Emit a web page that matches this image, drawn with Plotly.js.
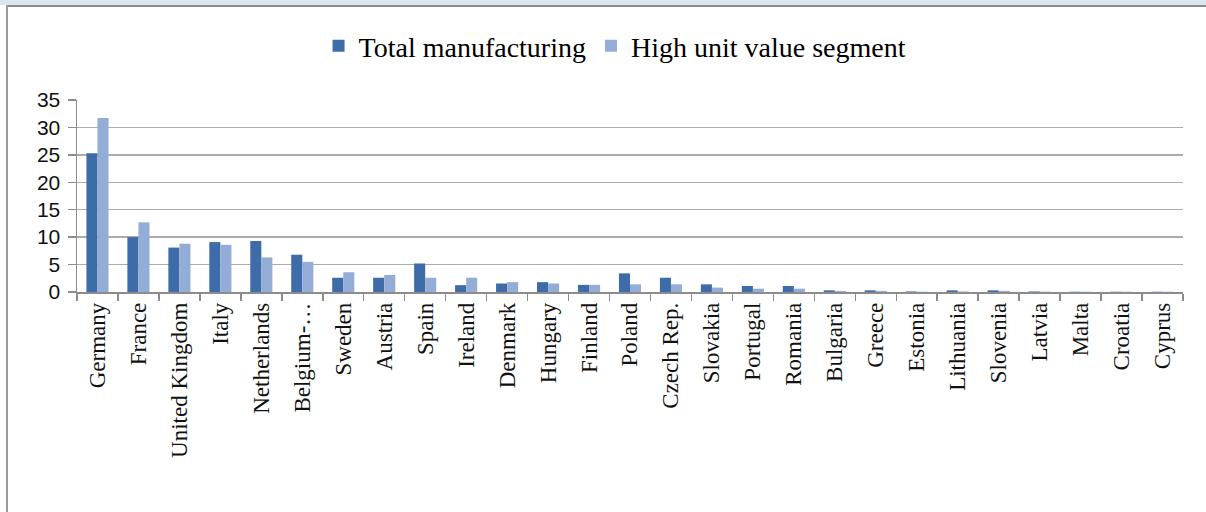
<!DOCTYPE html>
<html>
<head>
<meta charset="utf-8">
<script src="https://cdn.plot.ly/plotly-3.0.1.min.js"></script>
<style>
  html, body { margin: 0; padding: 0; background: #ffffff; }
  #wrap { position: relative; width: 1206px; height: 512px; overflow: hidden; }
  #chart { position: absolute; left: 0; top: 0; width: 1206px; height: 512px; }
  #band { position: absolute; left: 0; top: 0; width: 1206px; height: 5px; background: #dce6f1; pointer-events: none; }
  #topline { position: absolute; left: 6px; top: 5px; width: 1200px; height: 2px; background: #8c8c8c; pointer-events: none; }
  #leftline { position: absolute; left: 6px; top: 5px; width: 2px; height: 507px; background: #9a9a9a; pointer-events: none; }
</style>
</head>
<body>
<div id="wrap">
  <div id="chart"></div>
  <div id="band"></div>
  <div id="topline"></div>
  <div id="leftline"></div>
</div>
<script>
var countries = ["Germany", "France", "United Kingdom", "Italy", "Netherlands", "Belgium-…",
  "Sweden", "Austria", "Spain", "Ireland", "Denmark", "Hungary", "Finland", "Poland",
  "Czech Rep.", "Slovakia", "Portugal", "Romania", "Bulgaria", "Greece", "Estonia",
  "Lithuania", "Slovenia", "Latvia", "Malta", "Croatia", "Cyprus"];

var totalManufacturing = [25.3, 10.0, 8.1, 9.1, 9.3, 6.8,
  2.6, 2.6, 5.2, 1.25, 1.55, 1.8, 1.3, 3.4,
  2.6, 1.4, 1.1, 1.1, 0.3, 0.3, 0.1,
  0.3, 0.3, 0.1, 0.05, 0.05, 0.05];

var highUnitValue = [31.7, 12.7, 8.8, 8.6, 6.3, 5.5,
  3.6, 3.1, 2.6, 2.6, 1.8, 1.55, 1.3, 1.4,
  1.4, 0.8, 0.6, 0.6, 0.2, 0.2, 0.05,
  0.1, 0.2, 0.05, 0.05, 0.05, 0.05];

var yTicks = [0, 5, 10, 15, 20, 25, 30, 35];

var traces = [
  { type: "bar", name: "Total manufacturing", x: countries, y: totalManufacturing,
    marker: { color: "#3d6ca9" } },
  { type: "bar", name: "High unit value segment", x: countries, y: highUnitValue,
    marker: { color: "#93add7" } }
];

var layout = {
  width: 1206, height: 512,
  margin: { l: 77, r: 23, t: 100, b: 220 },
  paper_bgcolor: "#ffffff",
  plot_bgcolor: "#ffffff",
  barmode: "group",
  bargap: 0.46,
  bargroupgap: 0,
  showlegend: true,
  legend: {
    orientation: "h", x: 0.51, xanchor: "center", xref: "container",
    y: 0.91, yanchor: "middle", yref: "container",
    font: { family: "Liberation Serif, Times New Roman, serif", size: 28, color: "#000000" },
    itemwidth: 30, tracegroupgap: 0
  },
  xaxis: {
    type: "category",
    tickson: "boundaries",
    ticks: "outside", ticklen: 7, tickcolor: "#8c8c8c", tickwidth: 1.5,
    showline: true, linecolor: "#8c8c8c", linewidth: 1.5,
    tickangle: -90,
    tickfont: { family: "Liberation Serif, Times New Roman, serif", size: 23, color: "#111111" },
    showgrid: false, zeroline: false, fixedrange: true, automargin: false
  },
  yaxis: {
    range: [0, 35],
    tickvals: yTicks,
    ticktext: yTicks.map(String),
    ticks: "outside", ticklen: 8, tickcolor: "#8c8c8c", tickwidth: 1.5,
    showline: true, linecolor: "#8c8c8c", linewidth: 1.5,
    showgrid: true, gridcolor: "#acacac", gridwidth: 1.5,
    zeroline: false,
    tickfont: { family: "Liberation Sans, Arial, sans-serif", size: 21, color: "#111111" },
    ticklabelstandoff: 3,
    fixedrange: true, automargin: false
  }
};

Plotly.newPlot("chart", traces, layout, { displayModeBar: false, staticPlot: true });
</script>
</body>
</html>
